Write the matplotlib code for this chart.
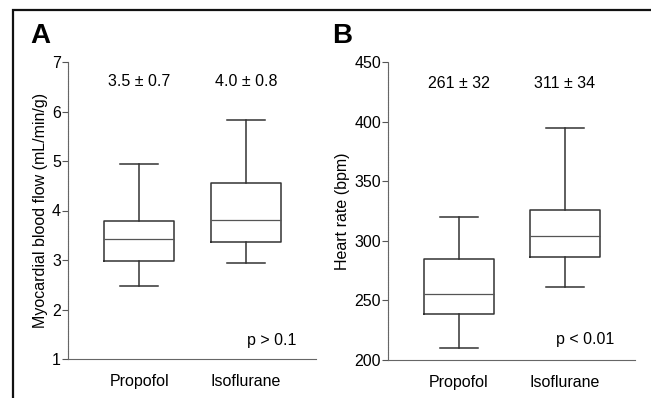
import matplotlib
matplotlib.use('Agg')
import matplotlib.pyplot as plt
from matplotlib.patches import Rectangle

plt.rcParams['font.family'] = ['Liberation Sans', 'DejaVu Sans']

groups = ['Propofol', 'Isoflurane']

# panel A: myocardial blood flow (whislo, q1, med, q3, whishi)
mbf_low = [2.48, 2.94]
mbf_q1 = [2.98, 3.36]
mbf_med = [3.43, 3.80]
mbf_q3 = [3.78, 4.56]
mbf_high = [4.93, 5.82]
mbf_text = ['3.5 \u00b1 0.7', '4.0 \u00b1 0.8']

# panel B: heart rate
hr_low = [210, 261]
hr_q1 = [239, 286]
hr_med = [255, 304]
hr_q3 = [285, 326]
hr_high = [320, 395]
hr_text = ['261 \u00b1 32', '311 \u00b1 34']


def make_stats(low, q1, med, q3, high):
    stats = []
    for i in range(len(low)):
        stats.append({'whislo': low[i], 'q1': q1[i], 'med': med[i],
                      'q3': q3[i], 'whishi': high[i], 'fliers': []})
    return stats


def draw_panel(ax, stats, ylim, yticks, ylabel, texts, text_y, ptext, p_xy, letter, letter_x):
    line = dict(color='#333333', linewidth=1.1)
    ax.bxp(stats, positions=[1, 2], widths=0.66, showfliers=False,
           boxprops=line, whiskerprops=line, capprops=line,
           medianprops=dict(color='#555555', linewidth=0.9), capwidths=0.36)
    ax.set_xlim(0.33, 2.66)
    ax.set_ylim(*ylim)
    ax.set_yticks(yticks)
    ax.set_xticks([1, 2])
    ax.set_xticklabels(groups, fontsize=11.5)
    ax.tick_params(axis='x', length=0, pad=11)
    ax.tick_params(axis='y', labelsize=11.5, length=4, width=0.8, color='#555555', pad=1)
    ax.spines['top'].set_visible(False)
    ax.spines['right'].set_visible(False)
    ax.spines['left'].set_color('#666666')
    ax.spines['bottom'].set_color('#666666')
    ax.spines['left'].set_linestyle((0, (1, 0.5)))
    ax.set_ylabel(ylabel, fontsize=11.5, labelpad=3)
    for i, t in enumerate(texts):
        ax.text(i + 1, text_y, t, ha='center', va='center', fontsize=11.5)
    ax.text(p_xy[0], p_xy[1], ptext, ha='center', va='center', fontsize=11.5)
    ax.text(letter_x, 1.045, letter, transform=ax.transAxes, fontsize=20,
            fontweight='bold', ha='right', va='bottom')


fig = plt.figure(figsize=(6.51, 3.98), dpi=100)
fig.patches.append(Rectangle((12.5 / 651, -0.2), 1.2, 1 - 9.5 / 398 + 0.2,
                             transform=fig.transFigure, fill=False,
                             edgecolor='#111111', linewidth=1.6))

ax1 = fig.add_axes([68 / 651, 1 - 359 / 398, 248 / 651, 297 / 398])
draw_panel(ax1, make_stats(mbf_low, mbf_q1, mbf_med, mbf_q3, mbf_high),
           (1, 7), [1, 2, 3, 4, 5, 6, 7], 'Myocardial blood flow (mL/min/g)',
           mbf_text, 6.6, 'p > 0.1', (2.24, 1.38), 'A', -0.07)

ax2 = fig.add_axes([388 / 651, 1 - 360 / 398, 247 / 651, 298 / 398])
draw_panel(ax2, make_stats(hr_low, hr_q1, hr_med, hr_q3, hr_high),
           (200, 450), [200, 250, 300, 350, 400, 450], 'Heart rate (bpm)',
           hr_text, 432, 'p < 0.01', (2.19, 217), 'B', -0.145)

fig.savefig('out.png', dpi=100)
